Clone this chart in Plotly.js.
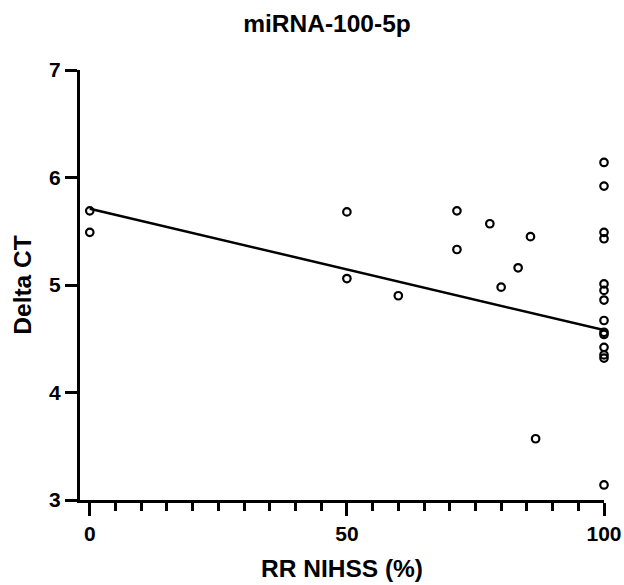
<!DOCTYPE html>
<html>
<head>
<meta charset="utf-8">
<script src="https://cdn.plot.ly/plotly-3.0.1.min.js"></script>
<style>html,body{margin:0;padding:0;background:#fff;}#chart{width:624px;height:585px;}</style>
</head>
<body>
<div id="chart"></div>
<script>
// RR NIHSS (%) vs Delta CT for miRNA-100-5p
const rrNihss = [0, 0, 50, 50, 60, 71.4, 71.4, 77.8, 80, 83.3, 85.7, 86.7,
  100, 100, 100, 100, 100, 100, 100, 100, 100, 100, 100, 100, 100, 100];
const deltaCt = [5.69, 5.49, 5.68, 5.06, 4.90, 5.69, 5.33, 5.57, 4.98, 5.16, 5.45, 3.57,
  6.14, 5.92, 5.49, 5.43, 5.01, 4.95, 4.86, 4.67, 4.56, 4.54, 4.42, 4.35, 4.32, 3.14];
// fitted regression line as drawn in the figure
const fitX = [0, 100];
const fitY = [5.71, 4.58];
const xTicks = [0, 50, 100];
const yTicks = [3, 4, 5, 6, 7];

const FONT = 'Liberation Sans, Arial, sans-serif';

const traces = [
  {
    x: fitX, y: fitY, type: 'scatter', mode: 'lines',
    line: {color: '#000', width: 2.5}, hoverinfo: 'skip', showlegend: false
  },
  {
    x: rrNihss, y: deltaCt, type: 'scatter', mode: 'markers',
    marker: {symbol: 'circle-open', size: 7.5, color: '#000', line: {width: 2.2, color: '#000'}},
    showlegend: false, cliponaxis: false
  }
];

const layout = {
  width: 624, height: 585,
  margin: {l: 80, r: 20, t: 70, b: 85},
  paper_bgcolor: '#fff', plot_bgcolor: '#fff',
  showlegend: false,
  title: {
    text: 'miRNA-100-5p',
    font: {family: FONT, size: 24.5, color: '#000', weight: 'bold'},
    x: 327/624, xref: 'container', xanchor: 'center',
    y: 1 - 23/585, yref: 'container', yanchor: 'middle'
  },
  xaxis: {
    range: [-1.9, 100],
    tickmode: 'array', tickvals: xTicks, ticktext: xTicks.map(String),
    showgrid: false, zeroline: false,
    showline: true, linewidth: 3, linecolor: '#000',
    ticks: 'outside', ticklen: 13, tickwidth: 3, tickcolor: '#000',
    minor: {tick0: 0, dtick: 5, ticks: 'outside', ticklen: 8, tickwidth: 3, tickcolor: '#000', showgrid: false},
    tickfont: {family: FONT, size: 21, color: '#000', weight: 'bold'},
    title: {text: 'RR NIHSS (%)', font: {family: FONT, size: 24.5, color: '#000', weight: 'bold'}, standoff: 16},
    automargin: false
  },
  yaxis: {
    range: [3, 7],
    tickmode: 'array', tickvals: yTicks, ticktext: yTicks.map(String),
    showgrid: false, zeroline: false,
    showline: true, linewidth: 3, linecolor: '#000',
    ticks: 'outside', ticklen: 12, tickwidth: 3, tickcolor: '#000',
    tickfont: {family: FONT, size: 21, color: '#000', weight: 'bold'},
    title: {text: 'Delta CT', font: {family: FONT, size: 24.5, color: '#000', weight: 'bold'}, standoff: 11},
    automargin: false
  }
};

Plotly.newPlot('chart', traces, layout, {displayModeBar: false, staticPlot: true});
</script>
</body>
</html>
